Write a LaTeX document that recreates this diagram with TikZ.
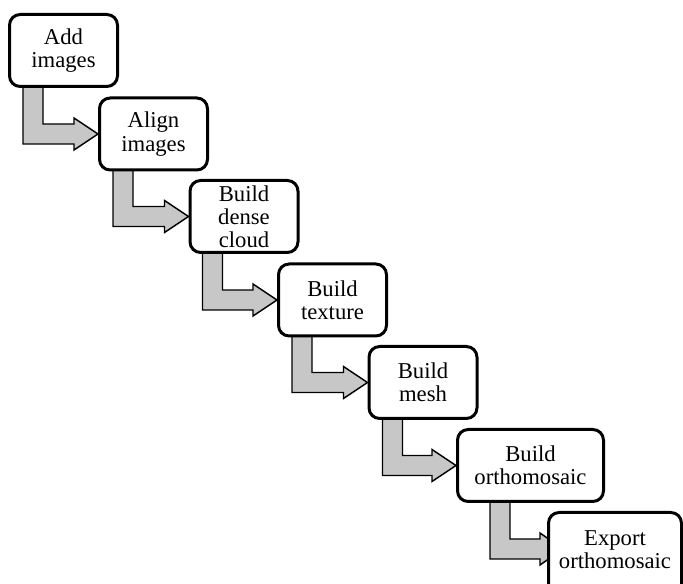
\documentclass[tikz,border=0pt]{standalone}
\usepackage{fontspec}
\setmainfont{Liberation Serif}
\usetikzlibrary{calc}
\pgfdeclarelayer{background}
\pgfsetlayers{background,main}

\begin{document}
\begin{tikzpicture}[x=0.75pt,y=-0.75pt,
  stepbox/.style={draw, line width=2.25pt, rounded corners=8pt, fill=white,
    minimum width=81pt, minimum height=54pt, inner sep=0pt, align=center,
    font=\fontsize{17}{17.4}\selectfont},
  bentarrow/.style={draw=black, fill=black!22, line width=1.1pt, line join=miter}]
\useasboundingbox (0,0) rectangle (683,584);
\node[stepbox] (add) at (63.5,50.5) {Add\\images};
\node[stepbox] (align) at (153.5,134) {Align\\images};
\node[stepbox] (dense) at (244,216.5) {Build\\dense\\cloud};
\node[stepbox] (texture) at (332.5,300) {Build\\texture};
\node[stepbox] (mesh) at (423,382.5) {Build\\mesh};
\node[stepbox, minimum width=109.5pt] (ortho) at (530.5,465.5) {Build\\orthomosaic};
% last box runs off the bottom edge
\node[stepbox, minimum width=99.75pt, minimum height=64pt, text depth=8pt, anchor=north]
  (export) at (615,511) {Export\\orthomosaic};
% grey bent arrows, kept behind the boxes
\begin{pgfonlayer}{background}
\foreach \a/\b/\o in {add/align/15, align/dense/15, dense/texture/14,
    texture/mesh/15, mesh/ortho/15} {
  \coordinate (s) at ($(\a.south west)+(\o,-4)$);
  \coordinate (s2) at ($(s)+(20,0)$);
  \coordinate (lo) at ($(\b.west)+(-24,10)$);
  \coordinate (hi) at ($(\b.west)+(-24,-10)$);
  \draw[bentarrow] (s) -- (s |- lo) -- (lo) -- ($(\b.west)+(-24,16)$)
    -- (\b.west) -- ($(\b.west)+(-24,-16)$) -- (hi) -- (s2 |- hi) -- (s2) -- cycle;
}
% the last arrow sits further right, its tip under the box
\coordinate (s) at ($(ortho.south west)+(34,-4)$);
\coordinate (s2) at ($(s)+(20,0)$);
\coordinate (t) at ($(export.north west)+(0,38)$);
\coordinate (lo) at ($(t)+(-7,10)$);
\coordinate (hi) at ($(t)+(-7,-10)$);
\draw[bentarrow] (s) -- (s |- lo) -- (lo) -- ($(t)+(-7,16)$)
  -- ($(t)+(16,0)$) -- ($(t)+(-7,-16)$) -- (hi) -- (s2 |- hi) -- (s2) -- cycle;
\end{pgfonlayer}
\end{tikzpicture}
\end{document}
